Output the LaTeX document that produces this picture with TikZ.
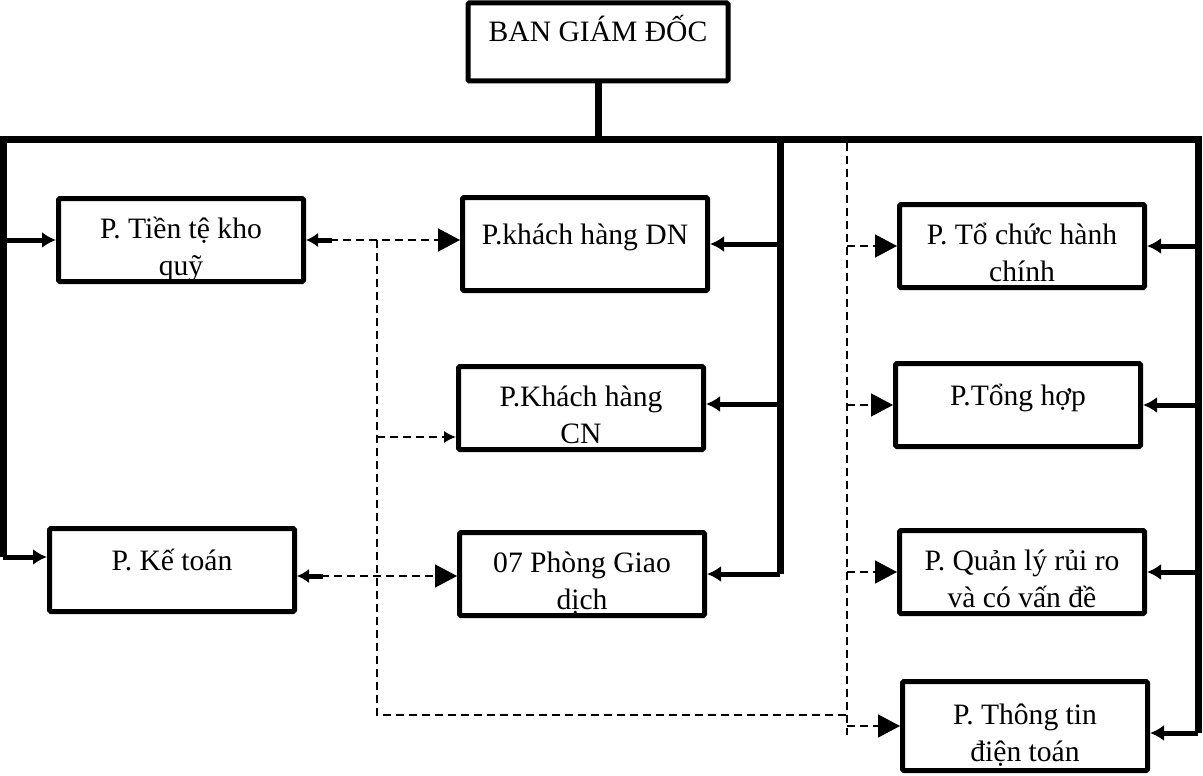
\documentclass[tikz,border=0pt]{standalone}
\usepackage{fontspec}
\setmainfont{Liberation Serif}
\usetikzlibrary{arrows.meta}

\begin{document}
\begin{tikzpicture}[x=1pt, y=-1pt,
	main/.style = {draw, line width=5pt, rounded corners=1.5pt, align=center, inner sep=0pt, minimum width=245pt, minimum height=83pt, font=\fontsize{29.6}{37}\selectfont},
	one/.style = {text height=12pt, text depth=12pt},
	two/.style = {text height=70pt, text depth=0pt},
	bus/.style = {line width=7pt},
	feed/.style = {line width=5pt, -{Latex[length=14pt, width=16pt]}},
	dline/.style = {dash pattern=on 8pt off 5pt, line width=1.5pt},
	darrow/.style = {dline, -{Triangle[length=22pt, width=23pt]}},
	dsmall/.style = {dline, -{Latex[length=12pt, width=12pt]}},
	both/.style = {dline, {Latex[length=12pt, width=14pt] Rectangle[length=14pt, width=5pt]}-{Triangle[length=22pt, width=23pt]}}]
	\useasboundingbox (0,0) rectangle (1203,776);
	\node[main, one] (bgd) at (598,42) [minimum width=260pt, minimum height=78pt] {BAN GIÁM ĐỐC};
	\node[main, two] (tien) at (181,240) {P. Tiền tệ kho\\quỹ};
	\node[main, one] (kt) at (172,570) {P. Kế toán};
	\node[main, one] (dn) at (585,244) [minimum height=93pt] {P.khách hàng DN};
	\node[main, two] (cn) at (581,408) {P.Khách hàng\\CN};
	\node[main, two] (gd) at (582,574) {07 Phòng Giao\\dịch};
	\node[main, two] (tc) at (1022,246) {P. Tổ chức hành\\chính};
	\node[main, one] (th) at (1018,405) {P.Tổng hợp};
	\node[main, two] (ql) at (1022,572) {P. Quản lý rủi ro\\và có vấn đề};
	\node[main, two] (tt) at (1025,726) [minimum height=89pt] {P. Thông tin\\điện toán};
	\coordinate (bl) at (3,139);
	\coordinate (bm) at (780,139);
	\coordinate (br) at (1198,139);
	\coordinate (ktin) at ([yshift=13pt]kt.west);
	\coordinate (cnin) at ([yshift=4pt]cn.east);
	\coordinate (ttin) at ([yshift=-7pt]tt.east);
	\draw[bus] (bgd.south) -- (bgd.south |- bl);
	\draw[bus] (bl |- ktin) -- (bl) -- (br) -- (br |- ttin);
	\draw[bus] (bm) -- (bm |- gd.east);
	\draw[feed] (bl |- tien.west) -- (tien.west);
	\draw[feed] (bl |- ktin) -- (ktin);
	\draw[feed] (bm |- dn.east) -- (dn.east);
	\draw[feed] (bm |- cnin) -- (cnin);
	\draw[feed] (bm |- gd.east) -- (gd.east);
	\draw[feed] (br |- tc.east) -- (tc.east);
	\draw[feed] (br |- th.east) -- (th.east);
	\draw[feed] (br |- ql.east) -- (ql.east);
	\draw[feed] (br |- ttin) -- (ttin);
	\coordinate (dl) at (377,715);
	\coordinate (dtop) at (847,143);
	\coordinate (dbot) at (847,735);
	\draw[dline] (dl |- tien.east) -- (dl) -- (dl -| dtop);
	\draw[dline] (dtop) -- (dbot);
	\draw[both] (tien.east) -- (tien.east -| dn.west);
	\draw[dsmall] (dl |- 0,437) -- (cn.west |- 0,437);
	\draw[both] ([yshift=-6pt]kt.east) -- ([yshift=-6pt]kt.east -| gd.west);
	\draw[darrow] (dtop |- tc.west) -- (tc.west);
	\draw[darrow] (dtop |- th.west) -- (th.west);
	\draw[darrow] (dtop |- ql.west) -- (ql.west);
	\draw[darrow] (dbot |- tt.west) -- (tt.west);
\end{tikzpicture}
\end{document}
